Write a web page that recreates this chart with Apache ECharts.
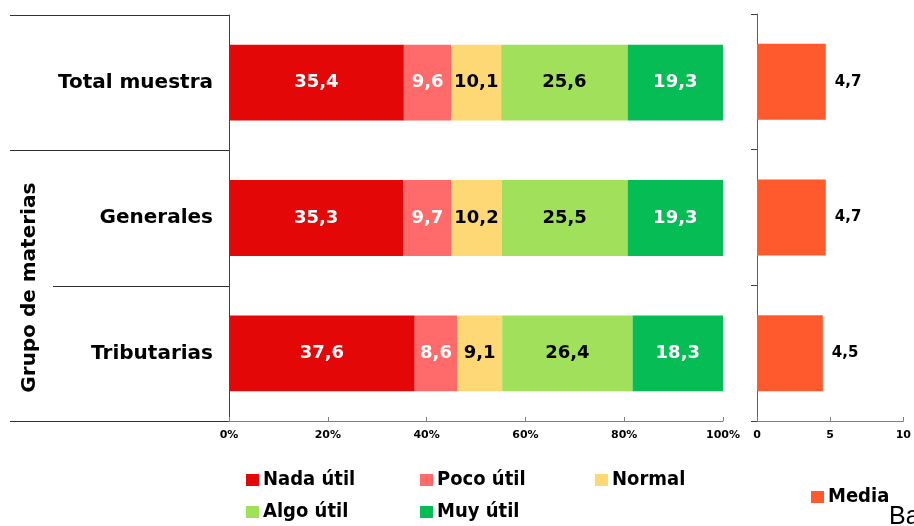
<!DOCTYPE html>
<html>
<head>
<meta charset="utf-8">
<script src="https://cdn.jsdelivr.net/npm/echarts@6/dist/echarts.min.js"></script>
<style>
  html, body { margin: 0; padding: 0; background: #fff; }
  #chart { width: 914px; height: 526px; }
</style>
</head>
<body>
<div id="chart"></div>
<script>
// Subject groups (top to bottom)
const groups = ['Total muestra', 'Generales', 'Tributarias'];

// Share of answers per usefulness level (%)
const nadaUtil = [35.4, 35.3, 37.6];
const pocoUtil = [9.6, 9.7, 8.6];
const normal   = [10.1, 10.2, 9.1];
const algoUtil = [25.6, 25.5, 26.4];
const muyUtil  = [19.3, 19.3, 18.3];

// Mean score (0-10)
const media = [4.7, 4.7, 4.5];

const FONT = '"DejaVu Sans", Verdana, sans-serif';
const LEGEND_FONT = '"DejaVu Sans Condensed", "Liberation Sans Narrow", "DejaVu Sans", sans-serif';
const fmt = v => Number(v).toFixed(1).replace('.', ',');

const chart = echarts.init(document.getElementById('chart'), null, { renderer: 'canvas' });

function stackSeries(name, data, color, labelColor) {
  return {
    name: name,
    type: 'bar',
    stack: 'total',
    xAxisIndex: 0,
    yAxisIndex: 0,
    barWidth: '56%',
    data: data,
    itemStyle: { color: color },
    label: {
      show: true,
      position: 'inside',
      formatter: p => fmt(p.value),
      color: labelColor,
      fontFamily: FONT,
      fontWeight: 'bold',
      fontSize: 18
    },
    emphasis: { disabled: true }
  };
}

function legendBlock(names, left, top) {
  return {
    data: names,
    orient: 'vertical',
    left: left,
    top: top,
    padding: 0,
    itemGap: 12,
    itemWidth: 13,
    itemHeight: 12,
    icon: 'rect',
    textStyle: {
      color: '#000', fontFamily: LEGEND_FONT, fontWeight: 'bold',
      fontSize: 20, lineHeight: 20, padding: [0, 0, 0, -1]
    },
    selectedMode: false
  };
}

const option = {
  animation: false,
  backgroundColor: '#ffffff',
  grid: [
    { left: 229, right: 191, top: 15, bottom: 105 },
    { left: 757, right: 9, top: 14, bottom: 105 }
  ],
  xAxis: [
    {
      gridIndex: 0,
      type: 'value',
      min: 0, max: 100, interval: 20,
      axisLine: { show: true, lineStyle: { color: '#808080', width: 1 } },
      axisTick: { show: true, inside: true, length: 4, lineStyle: { color: '#808080' } },
      splitLine: { show: false },
      axisLabel: {
        formatter: '{value}%',
        color: '#000', fontFamily: FONT, fontWeight: 'bold', fontSize: 11, margin: 9
      }
    },
    {
      gridIndex: 1,
      type: 'value',
      min: 0, max: 10, interval: 5,
      axisLine: { show: true, lineStyle: { color: '#808080', width: 1 } },
      axisTick: { show: true, inside: true, length: 4, lineStyle: { color: '#808080' } },
      splitLine: { show: false },
      axisLabel: {
        color: '#000', fontFamily: FONT, fontWeight: 'bold', fontSize: 11, margin: 9
      }
    }
  ],
  yAxis: [
    {
      gridIndex: 0,
      type: 'category',
      inverse: true,
      data: groups,
      axisLine: { show: true, lineStyle: { color: '#404040', width: 1 } },
      axisTick: { show: false },
      axisLabel: {
        color: '#000', fontFamily: FONT, fontWeight: 'bold', fontSize: 20, margin: 16
      }
    },
    {
      gridIndex: 1,
      type: 'category',
      inverse: true,
      data: groups,
      axisLine: { show: true, lineStyle: { color: '#606060', width: 1 } },
      axisTick: { show: true, length: 6, lineStyle: { color: '#404040' } },
      axisLabel: { show: false }
    }
  ],
  legend: [
    legendBlock(['Nada útil', 'Algo útil'], 246, 470),
    legendBlock(['Poco útil', 'Muy útil'], 420, 470),
    legendBlock(['Normal'], 595, 470),
    legendBlock(['Media'], 811, 487)
  ],
  series: [
    stackSeries('Nada útil', nadaUtil, '#E30707', '#ffffff'),
    stackSeries('Poco útil', pocoUtil, '#FF6B6B', '#ffffff'),
    stackSeries('Normal', normal, '#FFD876', '#000000'),
    stackSeries('Algo útil', algoUtil, '#A0E05A', '#000000'),
    stackSeries('Muy útil', muyUtil, '#05BC55', '#ffffff'),
    {
      name: 'Media',
      type: 'bar',
      xAxisIndex: 1,
      yAxisIndex: 1,
      barWidth: '56%',
      data: media,
      itemStyle: { color: '#FF5A2E' },
      label: {
        show: true,
        position: 'right',
        distance: 9,
        formatter: p => fmt(p.value),
        color: '#000', fontFamily: FONT, fontWeight: 'bold', fontSize: 15
      },
      emphasis: { disabled: true }
    }
  ]
};

chart.setOption(option);

// Group separators on the left category axis plus the rotated axis title
(function addDecorations() {
  const centers = groups.map(g => chart.convertToPixel({ yAxisIndex: 0 }, g));
  const half = (centers[1] - centers[0]) / 2;
  const axisX = chart.convertToPixel({ xAxisIndex: 0 }, 0);
  const bounds = [centers[0] - half, (centers[0] + centers[1]) / 2, (centers[1] + centers[2]) / 2, centers[2] + half];
  const starts = [10, 10, 53, 10];
  const elements = bounds.map((y, i) => ({
    type: 'line',
    shape: { x1: starts[i], y1: Math.round(y) + 0.5, x2: axisX, y2: Math.round(y) + 0.5 },
    style: { stroke: '#303030', lineWidth: 1 },
    silent: true
  }));
  elements.push({
    type: 'text',
    x: 30,
    y: (bounds[1] + bounds[3]) / 2 + 2,
    rotation: Math.PI / 2,
    style: {
      text: 'Grupo de materias',
      fill: '#000',
      font: 'bold 20px ' + FONT,
      align: 'center',
      verticalAlign: 'middle'
    },
    silent: true
  });
  elements.push({
    type: 'text',
    x: 889,
    y: 530,
    style: {
      text: 'Ba',
      fill: '#000',
      font: '25px "Liberation Sans Narrow", "Liberation Sans", sans-serif',
      align: 'left',
      verticalAlign: 'bottom'
    },
    silent: true
  });
  chart.setOption({ graphic: elements });
})();
</script>
</body>
</html>
